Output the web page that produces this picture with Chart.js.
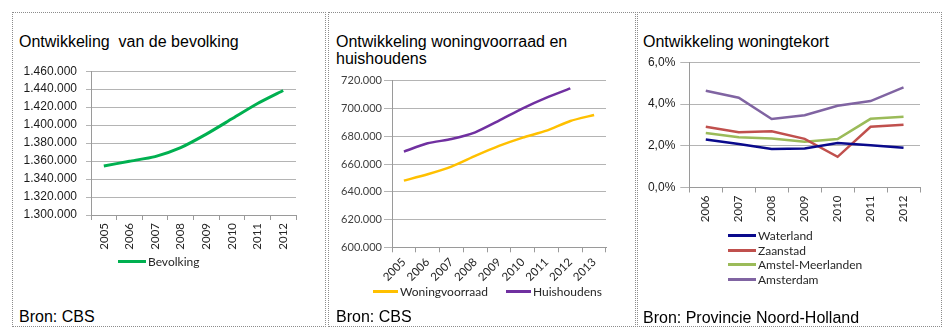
<!DOCTYPE html>
<html lang="nl">
<head>
<meta charset="utf-8">
<title>Bevolking, woningvoorraad en woningtekort</title>
<script src="https://cdn.jsdelivr.net/npm/chart.js@4.4.1/dist/chart.umd.min.js"></script>
<style>
  body { margin: 0; width: 948px; height: 329px; background: #fff; position: relative; overflow: hidden;
         font-family: "Liberation Sans", Arial, sans-serif; }
  .paneel { position: absolute; top: 12px; height: 315px; border: 1px dotted #8c8c8c; box-sizing: border-box; }
  .titel, .bron { position: absolute; font-size: 16px; line-height: 17px; color: #000; white-space: nowrap; }
  .vak { position: absolute; }
  .legenda { position: absolute; font-family: Lato, sans-serif; font-size: 12px; color: #262626; }
  .legenda .item { display: flex; align-items: center; height: 14.7px; white-space: nowrap; }
  .legenda .item i { display: inline-block; height: 3px; margin-right: 2px; }
  .rij { display: flex; gap: 18px; }
</style>
</head>
<body>
<div class="paneel" style="left:12px;width:314px"></div>
<div class="paneel" style="left:328px;width:308px"></div>
<div class="paneel" style="left:637px;width:305px"></div>

<div class="titel" style="left:19px;top:33px">Ontwikkeling&nbsp; van de bevolking</div>
<div class="titel" style="left:336px;top:33px">Ontwikkeling woningvoorraad en<br>huishoudens</div>
<div class="titel" style="left:643px;top:33px">Ontwikkeling woningtekort</div>

<div class="vak" style="left:12px;top:55px;width:300px;height:200px"><canvas id="grafiekBevolking"></canvas></div>
<div class="vak" style="left:330px;top:70px;width:300px;height:215px"><canvas id="grafiekWoningen"></canvas></div>
<div class="vak" style="left:640px;top:50px;width:295px;height:180px"><canvas id="grafiekTekort"></canvas></div>

<div class="legenda" id="legendaBevolking" style="left:118px;top:254px"></div>
<div class="legenda rij" id="legendaWoningen" style="left:373px;top:284px"></div>
<div class="legenda" id="legendaTekort" style="left:728px;top:228px"></div>

<div class="bron" style="left:19px;top:308px">Bron: CBS</div>
<div class="bron" style="left:336px;top:308px">Bron: CBS</div>
<div class="bron" style="left:643px;top:309px">Bron: Provincie Noord-Holland</div>

<script>
// Bevolking
var jarenBevolking = ['2005', '2006', '2007', '2008', '2009', '2010', '2011', '2012'];
var bevolking = [1354500, 1359800, 1365000, 1375000, 1390000, 1407000, 1424000, 1438500];
var ticksBevolking = [1300000, 1320000, 1340000, 1360000, 1380000, 1400000, 1420000, 1440000, 1460000];

// Woningvoorraad en huishoudens
var jarenWoningen = ['2005', '2006', '2007', '2008', '2009', '2010', '2011', '2012', '2013'];
var woningvoorraad = [648000, 652600, 658100, 665800, 673000, 679000, 684000, 691000, 695300];
var huishoudens = [668900, 674900, 678000, 682800, 691200, 700100, 707800, 714500, null];
var ticksWoningen = [600000, 620000, 640000, 660000, 680000, 700000, 720000];

// Woningtekort per regio (%)
var jarenTekort = ['2006', '2007', '2008', '2009', '2010', '2011', '2012'];
var waterland = [2.30, 2.08, 1.84, 1.87, 2.13, 2.02, 1.90];
var zaanstad = [2.91, 2.65, 2.70, 2.33, 1.47, 2.91, 3.01];
var amstelMeerlanden = [2.61, 2.41, 2.35, 2.19, 2.32, 3.29, 3.39];
var amsterdam = [4.64, 4.30, 3.28, 3.46, 3.92, 4.14, 4.80];
var ticksTekort = [0, 2, 4, 6];

var grijsRaster = '#b4b4b4';
var grijsAs = '#9a9a9a';

function puntjes(v) {
    return String(Math.round(v)).replace(/\B(?=(\d{3})+(?!\d))/g, '.');
}

function procent(v) {
    return v.toFixed(1).replace('.', ',') + '%';
}

// x-as: jaartallen, streepjes tussen de categorieen
function jaarAs(rotatie, hoogte, font) {
    return {
        offset: true,
        grid: { offset: true, drawOnChartArea: false, drawTicks: true, tickLength: 5, color: grijsAs },
        border: { color: grijsAs },
        ticks: { minRotation: rotatie, maxRotation: rotatie, autoSkip: false, padding: 3, color: '#262626', font: font },
        afterFit: function (s) { s.height = hoogte; }
    };
}

function waardeAs(tickWaarden, breedte, tickLengte, padding, opmaak, font, kleur) {
    return {
        min: tickWaarden[0],
        max: tickWaarden[tickWaarden.length - 1],
        afterBuildTicks: function (s) {
            s.ticks = tickWaarden.map(function (v) { return { value: v }; });
        },
        grid: { color: grijsRaster, tickLength: tickLengte },
        border: { color: grijsAs },
        ticks: { padding: padding, callback: opmaak, color: kleur, font: font },
        afterFit: function (s) { s.width = breedte; }
    };
}

function lijn(label, data, kleur, dikte, spanning) {
    return {
        label: label,
        data: data,
        borderColor: kleur,
        backgroundColor: kleur,
        borderWidth: dikte,
        pointRadius: 0,
        tension: spanning,
        fill: false
    };
}

function maakGrafiek(id, labels, datasets, schalen, padding) {
    var ctx = document.getElementById(id).getContext('2d');
    return new Chart(ctx, {
        type: 'line',
        data: { labels: labels, datasets: datasets },
        options: {
            responsive: true,
            maintainAspectRatio: false,
            animation: false,
            layout: { padding: padding },
            plugins: { legend: { display: false }, tooltip: { enabled: false } },
            scales: schalen
        }
    });
}

function maakLegenda(id, grafiek, lijnBreedte) {
    var el = document.getElementById(id);
    grafiek.data.datasets.forEach(function (ds) {
        var item = document.createElement('div');
        item.className = 'item';
        var streep = document.createElement('i');
        streep.style.background = ds.borderColor;
        streep.style.width = lijnBreedte + 'px';
        item.appendChild(streep);
        item.appendChild(document.createTextNode(ds.label));
        el.appendChild(item);
    });
}

var arial12 = { family: '"Liberation Sans", Arial, sans-serif', size: 12 };
var lato11 = { family: 'Lato, sans-serif', size: 11 };
var jaarFont = { family: 'Lato, sans-serif', size: 11.5 };

var g1 = maakGrafiek('grafiekBevolking', jarenBevolking,
    [lijn('Bevolking', bevolking, '#00b050', 3, 0.2)],
    { x: jaarAs(90, 40, jaarFont), y: waardeAs(ticksBevolking, 79, 5, 9, puntjes, arial12, '#1a1a1a') },
    { left: 0, right: 16, top: 12.3, bottom: 0 });

var g2 = maakGrafiek('grafiekWoningen', jarenWoningen,
    [lijn('Woningvoorraad', woningvoorraad, '#ffc000', 2.5, 0.2),
     lijn('Huishoudens', huishoudens, '#7030a0', 2.5, 0.2)],
    { x: jaarAs(45, 37.7, jaarFont), y: waardeAs(ticksWoningen, 62, 8, 2, puntjes, lato11, '#404040') },
    { left: 0, right: 24, top: 10.7, bottom: 0 });

var g3 = maakGrafiek('grafiekTekort', jarenTekort,
    [lijn('Waterland', waterland, '#0a0a8c', 2.5, 0),
     lijn('Zaanstad', zaanstad, '#c0504d', 2.5, 0),
     lijn('Amstel-Meerlanden', amstelMeerlanden, '#9bbb59', 2.5, 0),
     lijn('Amsterdam', amsterdam, '#8064a2', 2.5, 0)],
    { x: jaarAs(90, 42.5, jaarFont), y: waardeAs(ticksTekort, 49.3, 9, 5, procent, arial12, '#1a1a1a') },
    { left: 0, right: 15, top: 12.3, bottom: 0 });

maakLegenda('legendaBevolking', g1, 28);
maakLegenda('legendaWoningen', g2, 25);
maakLegenda('legendaTekort', g3, 28);
</script>
</body>
</html>
